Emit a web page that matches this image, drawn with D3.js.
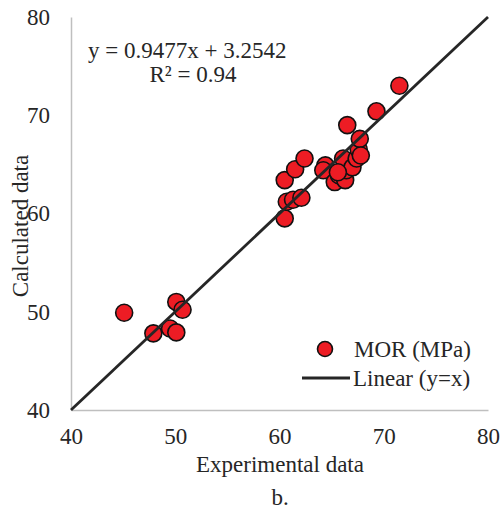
<!DOCTYPE html>
<html><head><meta charset="utf-8">
<script src="https://cdn.jsdelivr.net/npm/d3@7"></script>
<style>body{margin:0;background:#fff}svg text{font-family:"Liberation Serif","Times New Roman",serif;fill:#262626}</style>
</head><body>
<svg id="c" width="500" height="512"></svg>
<script>
const expX  = [45.1,47.9,49.5,50.1,50.1,50.7,60.5,60.7,61.3,62.1,60.5,61.5,62.4,64.4,64.2,65.3,65.7,66.3,66.4,66.1,67.0,67.4,67.6,67.7,66.5,69.3,71.5,67.8,65.6];
const calcY = [49.9,47.8,48.3,47.9,51.0,50.2,59.5,61.2,61.4,61.6,63.4,64.5,65.6,64.9,64.4,63.2,63.9,63.4,64.4,65.6,64.7,65.6,66.5,67.6,69.0,70.4,73.0,65.9,64.2];
const xTicks = [40,50,60,70,80];
const yTicks = [40,50,60,70,80];
const fitLine = [40,80];

const FS = 23;
const svg = d3.select("#c");
const x = d3.scaleLinear().domain([40,80]).range([71,488]);
const y = d3.scaleLinear().domain([40,80]).range([410,17]);

// axes
const xa = svg.append("g").attr("transform","translate(0,410)")
  .call(d3.axisBottom(x).tickValues(xTicks).tickSize(0).tickPadding(17));
const ya = svg.append("g").attr("transform","translate(71,0)")
  .call(d3.axisLeft(y).tickValues(yTicks).tickSize(0).tickPadding(21));
[xa,ya].forEach(a=>{
  a.attr("font-family","'Liberation Serif',serif");
  a.select(".domain").attr("stroke","#bfbfbf").attr("stroke-width",1.5);
  a.selectAll("text").attr("font-size",FS).attr("fill","#262626");
});
xa.selectAll("text").attr("dy","0.72em");

// points
svg.append("g").selectAll("circle").data(expX).join("circle")
  .attr("cx",(d)=>x(d)).attr("cy",(d,i)=>y(calcY[i])).attr("r",8.5)
  .attr("fill","#ed1c24").attr("stroke","#111").attr("stroke-width",1.6);

// y=x line
svg.append("line")
  .attr("x1",x(fitLine[0])).attr("y1",y(fitLine[0]))
  .attr("x2",x(fitLine[1])).attr("y2",y(fitLine[1]))
  .attr("stroke","#262626").attr("stroke-width",2.8);

// equation
svg.append("text").attr("x",88).attr("y",58).attr("font-size",FS).text("y = 0.9477x + 3.2542");
svg.append("text").attr("x",193).attr("y",82).attr("font-size",FS).attr("text-anchor","middle").text("R² = 0.94");

// axis titles
svg.append("text").attr("x",280).attr("y",472).attr("font-size",FS).attr("text-anchor","middle").text("Experimental data");
svg.append("text").attr("x",280).attr("y",505).attr("font-size",FS).attr("text-anchor","middle").text("b.");
svg.append("text").attr("transform","translate(28,226) rotate(-90)").attr("font-size",FS).attr("text-anchor","middle").text("Calculated data");

// legend
svg.append("circle").attr("cx",325).attr("cy",349).attr("r",7.5)
  .attr("fill","#ed1c24").attr("stroke","#111").attr("stroke-width",1.6);
svg.append("text").attr("x",354).attr("y",357).attr("font-size",FS).text("MOR (MPa)");
svg.append("line").attr("x1",302).attr("x2",350).attr("y1",378).attr("y2",378)
  .attr("stroke","#262626").attr("stroke-width",3);
svg.append("text").attr("x",353).attr("y",386).attr("font-size",FS).text("Linear (y=x)");
</script>
</body></html>
